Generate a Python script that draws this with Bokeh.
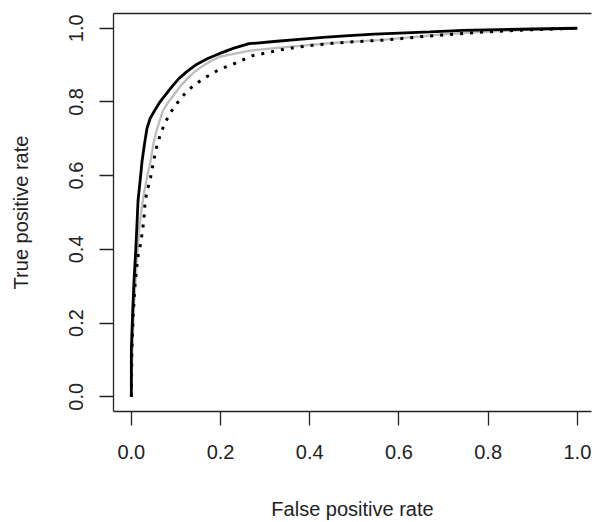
from bokeh.plotting import figure
from bokeh.models import Range1d, LinearAxis, FixedTicker
from bokeh.embed import file_html
from bokeh.resources import INLINE

# ROC curves
fpr_a = [0.0, 0.0, 0.003, 0.006, 0.010, 0.013, 0.015, 0.020, 0.024, 0.030, 0.035, 0.042, 0.051, 0.063,
         0.077, 0.092, 0.107, 0.125, 0.144, 0.170, 0.197, 0.230, 0.264, 0.320, 0.376, 0.430,
         0.488, 0.545, 0.600, 0.670, 0.742, 0.820, 0.900, 1.0]
tpr_a = [0.0, 0.128, 0.230, 0.316, 0.400, 0.478, 0.532, 0.590, 0.639, 0.690, 0.728, 0.755, 0.774, 0.798,
         0.820, 0.843, 0.864, 0.883, 0.900, 0.917, 0.931, 0.946, 0.958, 0.964, 0.970, 0.975,
         0.980, 0.984, 0.987, 0.990, 0.994, 0.996, 0.998, 1.0]

fpr_b = [0.0, 0.002, 0.006, 0.012, 0.018, 0.023, 0.028, 0.036, 0.043, 0.050, 0.058, 0.070, 0.082,
         0.096, 0.110, 0.126, 0.144, 0.163, 0.180, 0.197, 0.235, 0.270, 0.346, 0.450, 0.555,
         0.630, 0.712, 0.800, 0.900, 1.0]
tpr_b = [0.0, 0.120, 0.250, 0.360, 0.460, 0.510, 0.550, 0.600, 0.639, 0.690, 0.728, 0.774, 0.798,
         0.820, 0.843, 0.864, 0.884, 0.900, 0.912, 0.922, 0.932, 0.940, 0.949, 0.960, 0.968,
         0.976, 0.985, 0.991, 0.996, 1.0]

fpr_c = [0.0, 0.001, 0.004, 0.008, 0.012, 0.016, 0.021, 0.028, 0.031, 0.037, 0.043, 0.050, 0.058,
         0.067, 0.077, 0.095, 0.118, 0.140, 0.163, 0.197, 0.223, 0.270, 0.346, 0.400, 0.458,
         0.510, 0.570, 0.640, 0.700, 0.780, 0.880, 1.0]
tpr_c = [0.0, 0.120, 0.220, 0.300, 0.350, 0.390, 0.416, 0.478, 0.532, 0.565, 0.594, 0.640, 0.685,
         0.718, 0.747, 0.785, 0.820, 0.845, 0.864, 0.888, 0.900, 0.925, 0.944, 0.953, 0.960,
         0.964, 0.968, 0.976, 0.982, 0.989, 0.995, 1.0]

tick_values = [0.0, 0.2, 0.4, 0.6, 0.8, 1.0]
tick_labels = ["0.0", "0.2", "0.4", "0.6", "0.8", "1.0"]

FONT = "Liberation Sans"
TXT = "#222222"

p = figure(width=592, height=522, output_backend="svg", toolbar_location=None,
           x_range=Range1d(-0.04, 1.0317), y_range=Range1d(-0.04, 1.04),
           min_border_left=113, min_border_right=1, min_border_top=13, min_border_bottom=110,
           x_axis_label="False positive rate", y_axis_label="True positive rate")
p.outline_line_color = None
p.grid.visible = False
p.background_fill_color = "white"
p.border_fill_color = "white"

overrides = {v: s for v, s in zip(tick_values, tick_labels)}
for ax in (p.xaxis[0], p.yaxis[0]):
    ax.ticker = FixedTicker(ticks=tick_values)
    ax.major_label_overrides = overrides
    ax.minor_tick_line_color = None
    ax.major_tick_out = 14
    ax.major_tick_in = 0
    ax.axis_line_color = "#222222"
    ax.axis_line_width = 1.3
    ax.major_tick_line_color = "#222222"
    ax.major_tick_line_width = 1.3
    ax.major_label_text_font = FONT
    ax.major_label_text_font_size = "20px"
    ax.major_label_text_color = TXT
    ax.axis_label_text_font = FONT
    ax.axis_label_text_font_size = "20px"
    ax.axis_label_text_font_style = "normal"
    ax.axis_label_text_color = TXT

p.xaxis[0].major_label_standoff = 19
p.xaxis[0].axis_label_standoff = 36
p.yaxis[0].major_label_orientation = "vertical"
p.yaxis[0].major_label_standoff = 16
p.yaxis[0].axis_label_standoff = 35

top = LinearAxis(ticker=FixedTicker(ticks=[]), major_tick_out=0, major_tick_in=0,
                 minor_tick_line_color=None, major_label_text_font_size="0px",
                 axis_line_color="#222222", axis_line_width=1.3)
p.add_layout(top, "above")

p.line(fpr_b, tpr_b, line_color="#bcbcbc", line_width=2.3)
p.line(fpr_c, tpr_c, line_color="black", line_width=3, line_dash="3 7")
p.line(fpr_a, tpr_a, line_color="black", line_width=2.8)

open("out.html", "w").write(file_html(p, INLINE))
